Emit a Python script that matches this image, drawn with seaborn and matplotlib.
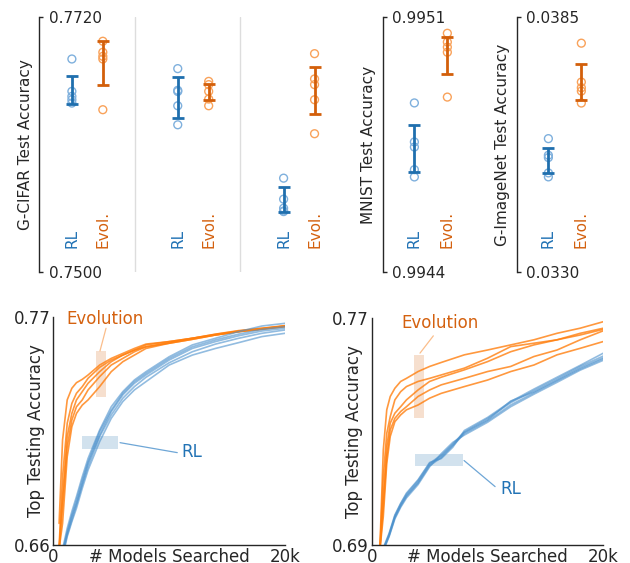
import numpy as np
import pandas as pd
import seaborn as sns
import matplotlib.pyplot as plt
from matplotlib.ticker import FormatStrFormatter

sns.set_theme(style='ticks')
plt.rcParams['font.family'] = ['DejaVu Sans']

# ---------------- top row: final test accuracy of every run ----------------
# G-CIFAR, three experiment settings
cifar_rl = [[0.76840, 0.76561, 0.76518, 0.76489, 0.76460],
            [0.76757, 0.76570, 0.76560, 0.76437, 0.76273],
            [0.75813, 0.75632, 0.75554, 0.75525, 0.75530]]
cifar_evo = [[0.76993, 0.76898, 0.76863, 0.76840, 0.76403],
             [0.76647, 0.76619, 0.76561, 0.76495, 0.76437],
             [0.76886, 0.76668, 0.76619, 0.76489, 0.76196]]
cifar_rl_mean = [0.76574, 0.76508, 0.75630]
cifar_rl_err = [0.00122, 0.00177, 0.00111]
cifar_evo_mean = [0.76806, 0.76558, 0.76568]
cifar_evo_err = [0.00187, 0.00069, 0.00203]

mnist_rl = [0.994865, 0.994758, 0.994744, 0.994682, 0.994662]
mnist_evo = [0.995056, 0.995032, 0.995018, 0.995004, 0.994881]
mnist_rl_mean, mnist_rl_err = 0.994740, 0.0000657
mnist_evo_mean, mnist_evo_err = 0.994995, 0.0000520

imnet_rl = [0.035884, 0.035526, 0.035476, 0.035146, 0.035060]
imnet_evo = [0.037941, 0.037103, 0.036981, 0.036909, 0.036651]
imnet_rl_mean, imnet_rl_err = 0.035419, 0.000265
imnet_evo_mean, imnet_evo_err = 0.037103, 0.000394

# ---------------- bottom row: best accuracy so far vs models searched (k) ----------------
cifar_evo_k = [0.5, 0.8, 1.2, 1.6, 2, 2.5, 3, 4, 5, 6, 7, 8, 10, 12, 14, 16, 18, 20]
cifar_evo_runs = [
    [0.6704, 0.7106, 0.7299, 0.7355, 0.7382, 0.7398, 0.7419, 0.7467, 0.7499, 0.7523, 0.7547, 0.7568, 0.7580, 0.7596, 0.7612, 0.7628, 0.7639, 0.7652],
    [0.6592, 0.6929, 0.7186, 0.7282, 0.7331, 0.7363, 0.7403, 0.7456, 0.7491, 0.7515, 0.7539, 0.7564, 0.7580, 0.7596, 0.7616, 0.7633, 0.7644, 0.7657],
    [0.6580, 0.6833, 0.7122, 0.7234, 0.7299, 0.7339, 0.7379, 0.7435, 0.7483, 0.7515, 0.7539, 0.7555, 0.7575, 0.7596, 0.7615, 0.7631, 0.7644, 0.7655],
    [0.6580, 0.6785, 0.7074, 0.7202, 0.7266, 0.7299, 0.7347, 0.7411, 0.7467, 0.7499, 0.7531, 0.7555, 0.7572, 0.7591, 0.7612, 0.7628, 0.7641, 0.7652],
    [0.6580, 0.6704, 0.7025, 0.7170, 0.7234, 0.7274, 0.7299, 0.7363, 0.7435, 0.7483, 0.7515, 0.7547, 0.7572, 0.7591, 0.7612, 0.7628, 0.7641, 0.7655],
]
cifar_rl_k = [0.8, 1.2, 1.6, 2, 2.5, 3, 4, 5, 6, 7, 8, 10, 12, 14, 16, 18, 20]
cifar_rl_runs = [
    [0.6580, 0.6680, 0.6761, 0.6833, 0.6929, 0.7017, 0.7154, 0.7266, 0.7339, 0.7395, 0.7435, 0.7507, 0.7564, 0.7596, 0.7628, 0.7655, 0.7668],
    [0.6570, 0.6664, 0.6744, 0.6817, 0.6913, 0.7001, 0.7146, 0.7250, 0.7331, 0.7387, 0.7427, 0.7499, 0.7555, 0.7588, 0.7616, 0.7639, 0.7652],
    [0.6560, 0.6656, 0.6736, 0.6801, 0.6897, 0.6993, 0.7130, 0.7242, 0.7323, 0.7379, 0.7419, 0.7491, 0.7547, 0.7580, 0.7608, 0.7631, 0.7644],
    [0.6550, 0.6648, 0.6720, 0.6793, 0.6889, 0.6977, 0.7122, 0.7226, 0.7307, 0.7363, 0.7408, 0.7478, 0.7531, 0.7568, 0.7596, 0.7620, 0.7636],
    [0.6540, 0.6640, 0.6712, 0.6777, 0.6873, 0.6961, 0.7098, 0.7210, 0.7291, 0.7347, 0.7387, 0.7467, 0.7515, 0.7547, 0.7575, 0.7604, 0.7620],
]
cifar_evo_first = 0.672

mnist_evo_k = [0.7, 1.0, 1.3, 1.6, 2, 2.5, 3, 4, 5, 6, 8, 10, 12, 14, 16, 18, 20]
mnist_evo_runs = [
    [0.688, 0.7235, 0.7377, 0.7424, 0.7453, 0.7477, 0.7488, 0.7512, 0.7530, 0.7544, 0.7571, 0.7588, 0.7606, 0.7624, 0.7647, 0.7665, 0.7688],
    [0.688, 0.7141, 0.7294, 0.7353, 0.7412, 0.7441, 0.7459, 0.7477, 0.7488, 0.7500, 0.7524, 0.7559, 0.7600, 0.7612, 0.7624, 0.7641, 0.7661],
    [0.688, 0.7071, 0.7247, 0.7330, 0.7365, 0.7388, 0.7412, 0.7447, 0.7477, 0.7492, 0.7518, 0.7547, 0.7582, 0.7606, 0.7624, 0.7647, 0.7665],
    [0.688, 0.7036, 0.7212, 0.7306, 0.7347, 0.7371, 0.7388, 0.7424, 0.7447, 0.7465, 0.7488, 0.7512, 0.7530, 0.7565, 0.7588, 0.7624, 0.7656],
    [0.688, 0.7000, 0.7188, 0.7283, 0.7335, 0.7359, 0.7377, 0.7394, 0.7418, 0.7435, 0.7459, 0.7482, 0.7512, 0.7535, 0.7571, 0.7594, 0.7618],
]
mnist_rl_k = [1.1, 1.5, 2, 2.5, 3, 4, 5, 6, 7, 8, 10, 12, 14, 16, 18, 20]
mnist_rl_runs = [
    [0.6900, 0.6941, 0.7006, 0.7047, 0.7083, 0.7130, 0.7191, 0.7205, 0.7245, 0.7304, 0.7350, 0.7406, 0.7450, 0.7492, 0.7534, 0.7577],
    [0.6896, 0.6938, 0.7003, 0.7045, 0.7079, 0.7127, 0.7188, 0.7217, 0.7257, 0.7299, 0.7346, 0.7402, 0.7445, 0.7487, 0.7530, 0.7567],
    [0.6894, 0.6934, 0.6999, 0.7040, 0.7074, 0.7121, 0.7184, 0.7213, 0.7253, 0.7297, 0.7341, 0.7408, 0.7440, 0.7482, 0.7525, 0.7561],
    [0.6892, 0.6932, 0.6996, 0.7037, 0.7071, 0.7118, 0.7180, 0.7208, 0.7250, 0.7293, 0.7338, 0.7394, 0.7437, 0.7479, 0.7521, 0.7557],
    [0.6889, 0.6929, 0.6992, 0.7033, 0.7066, 0.7113, 0.7176, 0.7222, 0.7262, 0.7288, 0.7333, 0.7388, 0.7432, 0.7474, 0.7517, 0.7552],
]
mnist_evo_first = 0.7124

# colours
RL_PT, EVO_PT = '#7fb0dd', '#f9a25a'
RL_BAR, EVO_BAR = '#1f6fae', '#d35f0a'
RL_TXT, EVO_TXT = '#2273b5', '#d4610f'
RL_LINE, EVO_LINE = '#4a90cc', '#ff7f0e'
INK = '#262626'

fig = plt.figure(figsize=(6.3, 5.63), dpi=100)


def top_axis(ax, lo, hi, label, fmt='%.4f'):
    ax.set_ylim(lo, hi)
    ax.set_yticks([lo, hi])
    ax.yaxis.set_major_formatter(FormatStrFormatter(fmt))
    ax.tick_params(axis='y', direction='in', length=3, width=1, pad=-7,
                   labelsize=11, colors=INK)
    plt.setp(ax.get_yticklabels(), ha='left')
    ax.set_xticks([])
    sns.despine(ax=ax, bottom=True)
    ax.spines['left'].set_color(INK)
    ax.spines['left'].set_linewidth(1)
    ax.set_ylabel(label, fontsize=11, labelpad=4.5, color=INK)


def draw_runs(ax, pos, runs, means, errs, pt_color, bar_color, name, txt_color):
    xs = np.repeat(pos, [len(r) for r in runs])
    ys = np.concatenate(runs)
    sns.scatterplot(x=xs, y=ys, ax=ax, color=pt_color, s=32, linewidth=1, zorder=3)
    pts = ax.collections[-1]
    pts.set_facecolor('none')
    pts.set_edgecolor(pt_color)
    ax.errorbar(pos, means, yerr=errs, fmt='none', ecolor=bar_color,
                elinewidth=2, capsize=4, capthick=2, zorder=4)
    for p in pos:
        ax.text(p, 0.0945, name, transform=ax.get_xaxis_transform(), rotation=90,
                ha='center', va='bottom', color=txt_color, fontsize=11)


# G-CIFAR
ax1 = fig.add_axes([0.0624, 0.516, 0.486, 0.4534])
rl_pos = [1, 4.25, 7.5]
evo_pos = [1.95, 5.2, 8.45]
for sep in [2.95, 6.15]:
    ax1.axvline(sep, color='#dddddd', lw=1, zorder=0)
draw_runs(ax1, rl_pos, cifar_rl, cifar_rl_mean, cifar_rl_err, RL_PT, RL_BAR, 'RL', RL_TXT)
draw_runs(ax1, evo_pos, cifar_evo, cifar_evo_mean, cifar_evo_err, EVO_PT, EVO_BAR, 'Evol.', EVO_TXT)
ax1.set_xlim(0, 9.4)
top_axis(ax1, 0.7500, 0.7720, 'G-CIFAR Test Accuracy')

# MNIST
ax2 = fig.add_axes([0.6075, 0.516, 0.1413, 0.4534])
draw_runs(ax2, [1], [mnist_rl], [mnist_rl_mean], [mnist_rl_err], RL_PT, RL_BAR, 'RL', RL_TXT)
draw_runs(ax2, [2], [mnist_evo], [mnist_evo_mean], [mnist_evo_err], EVO_PT, EVO_BAR, 'Evol.', EVO_TXT)
ax2.set_xlim(0.04, 2.74)
top_axis(ax2, 0.9944, 0.9951, 'MNIST Test Accuracy')

# G-ImageNet
ax3 = fig.add_axes([0.8202, 0.516, 0.1413, 0.4534])
draw_runs(ax3, [1], [imnet_rl], [imnet_rl_mean], [imnet_rl_err], RL_PT, RL_BAR, 'RL', RL_TXT)
draw_runs(ax3, [2], [imnet_evo], [imnet_evo_mean], [imnet_evo_err], EVO_PT, EVO_BAR, 'Evol.', EVO_TXT)
ax3.set_xlim(0.04, 2.74)
top_axis(ax3, 0.0330, 0.0385, 'G-ImageNet Test Accuracy')


def long_form(k, runs):
    rows = []
    for i, r in enumerate(runs):
        for x, y in zip(k, r):
            rows.append((x, y, i))
    return pd.DataFrame(rows, columns=['k', 'acc', 'run'])


def curve_axis(ax, lo, hi, evo_k, evo_runs, rl_k, rl_runs, first):
    sns.lineplot(data=long_form(evo_k, evo_runs), x='k', y='acc', units='run',
                 estimator=None, color=EVO_LINE, alpha=0.8, lw=1.2, ax=ax, legend=False)
    sns.lineplot(data=long_form(rl_k, rl_runs), x='k', y='acc', units='run',
                 estimator=None, color=RL_LINE, alpha=0.6, lw=1.2, ax=ax, legend=False)
    ax.plot([0, 0], [lo - 0.01, first], color=EVO_LINE, alpha=0.35, lw=1.5)
    ax.set_xlim(0, 20)
    ax.set_ylim(lo, hi)
    ax.set_xticks([0, 20])
    ax.set_xticklabels(['0', '20k'])
    ax.set_yticks([lo, hi])
    ax.yaxis.set_major_formatter(FormatStrFormatter('%.2f'))
    ax.tick_params(length=0, labelsize=12, pad=2, colors=INK)
    sns.despine(ax=ax)
    for s in ['left', 'bottom']:
        ax.spines[s].set_color(INK)
        ax.spines[s].set_linewidth(1)
    ax.set_xlabel('# Models Searched', fontsize=12, color=INK)
    ax.xaxis.set_label_coords(0.5, -0.014)
    ax.set_ylabel('Top Testing Accuracy', fontsize=12, color=INK)
    ax.yaxis.set_label_coords(-0.036, 0.5)


ax4 = fig.add_axes([0.0846, 0.032, 0.3678, 0.4055])
curve_axis(ax4, 0.66, 0.77, cifar_evo_k, cifar_evo_runs, cifar_rl_k, cifar_rl_runs, cifar_evo_first)
ax4.fill_between([3.68, 4.55], 0.7311, 0.7535, color=EVO_BAR, alpha=0.2, lw=0)
ax4.fill_between([2.48, 5.55], 0.7064, 0.7127, color=RL_BAR, alpha=0.2, lw=0)
ax4.plot([4.03, 4.55], [0.7535, 0.7644], color=EVO_PT, alpha=0.7, lw=0.9)
ax4.plot([5.76, 10.7], [0.7093, 0.7045], color=RL_LINE, alpha=0.8, lw=0.9)
ax4.text(1.09, 0.7687, 'Evolution', color=EVO_TXT, fontsize=12, ha='left', va='center')
ax4.text(11.08, 0.7046, 'RL', color=RL_TXT, fontsize=12, ha='left', va='center')

ax5 = fig.add_axes([0.590, 0.032, 0.3678, 0.4027])
curve_axis(ax5, 0.69, 0.77, mnist_evo_k, mnist_evo_runs, mnist_rl_k, mnist_rl_runs, mnist_evo_first)
ax5.fill_between([3.68, 4.55], 0.7347, 0.7571, color=EVO_BAR, alpha=0.2, lw=0)
ax5.fill_between([3.74, 7.86], 0.7177, 0.7221, color=RL_BAR, alpha=0.2, lw=0)
ax5.plot([4.17, 5.32], [0.7577, 0.7638], color=EVO_PT, alpha=0.7, lw=0.9)
ax5.plot([7.97, 10.65], [0.7198, 0.7106], color=RL_LINE, alpha=0.8, lw=0.9)
ax5.text(2.59, 0.7682, 'Evolution', color=EVO_TXT, fontsize=12, ha='left', va='center')
ax5.text(11.08, 0.7098, 'RL', color=RL_TXT, fontsize=12, ha='left', va='center')

fig.savefig('out.png', dpi=100)
